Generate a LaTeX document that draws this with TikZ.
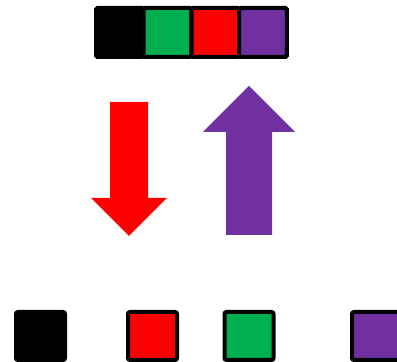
\documentclass[tikz,border=0pt]{standalone}
\definecolor{ogreen}{HTML}{00B050}
\definecolor{ored}{HTML}{FF0000}
\definecolor{opurple}{HTML}{7030A0}
\begin{document}
\begin{tikzpicture}[x=1pt,y=1pt,
  cell/.style={draw=black,line width=4pt,inner sep=0pt,
    minimum width=47.75pt,minimum height=49pt,rounded corners=1.5pt},
  chip/.style={draw=black,line width=4pt,inner sep=0pt,
    minimum width=49pt,minimum height=48pt,rounded corners=2pt}]
  \useasboundingbox (0,0) rectangle (397,362);
  % stacked row on top
  \foreach \cx/\cc/\nm in {119.9/black/top1,167.6/ogreen/top2,215.4/ored/top3,263.1/opurple/top4}{
    \node[cell,fill=\cc] (\nm) at (\cx,329.5) {};
  }
  % loose squares at the bottom
  \foreach \cx/\cc/\nm in {40.5/black/bot1,152.5/ored/bot2,249/ogreen/bot3,376.5/opurple/bot4}{
    \node[chip,fill=\cc] (\nm) at (\cx,26) {};
  }
  % block arrows
  \fill[ored] (110,260) -- (148,260) -- (148,164) -- (167,164) -- (129,126)
    -- (91,164) -- (110,164) -- cycle;
  \fill[opurple] (226,127) -- (272,127) -- (272,230) -- (295,230) -- (249,276)
    -- (203,230) -- (226,230) -- cycle;
\end{tikzpicture}
\end{document}
